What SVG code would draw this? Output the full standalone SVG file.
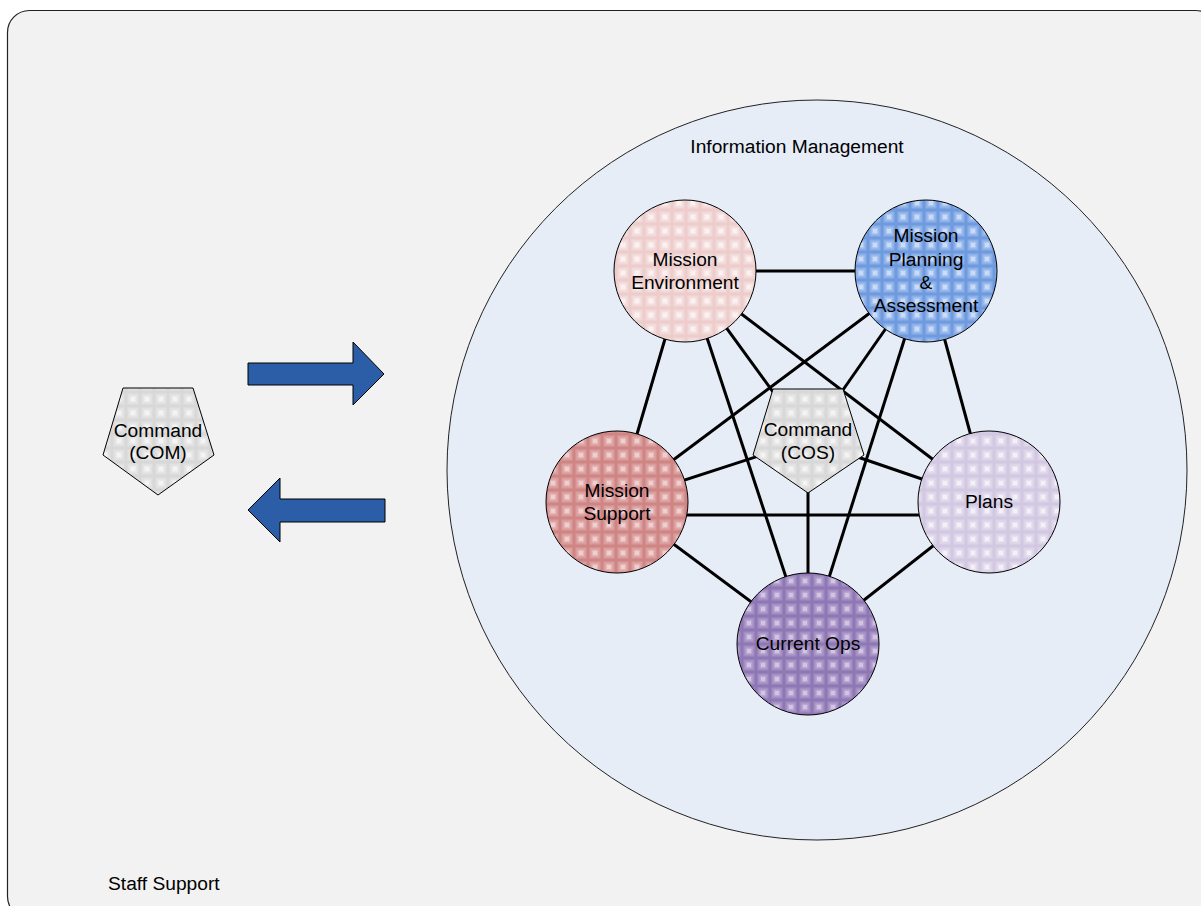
<svg xmlns="http://www.w3.org/2000/svg" width="1201" height="906" viewBox="0 0 1201 906">
<style>
text{font-family:"Liberation Sans",Arial,sans-serif;font-size:19.2px;fill:#000;text-anchor:middle}
.edge{stroke:#000;stroke-width:3;fill:none}
.node{stroke:#000;stroke-width:1}
.arrow{fill:#2b5ea6;stroke:#000;stroke-width:1}
</style>
<defs>
<pattern id="pME" width="14" height="14" patternUnits="userSpaceOnUse"><rect width="14" height="14" fill="#edcccc"/><rect x="1.5" y="1.5" width="11" height="11" fill="#f2d8d8"/><rect x="3.5" y="3.5" width="7" height="7" fill="#f7e6e6"/><rect x="5" y="5" width="4" height="4" fill="#fbf1f1"/></pattern>
<pattern id="pMPA" width="14" height="14" patternUnits="userSpaceOnUse"><rect width="14" height="14" fill="#6f9ade"/><rect x="1.5" y="1.5" width="11" height="11" fill="#8bafe8"/><rect x="3.5" y="3.5" width="7" height="7" fill="#abc6f0"/><rect x="5" y="5" width="4" height="4" fill="#cbdcf7"/></pattern>
<pattern id="pMS" width="14" height="14" patternUnits="userSpaceOnUse"><rect width="14" height="14" fill="#d08585"/><rect x="1.5" y="1.5" width="11" height="11" fill="#da9c9c"/><rect x="3.5" y="3.5" width="7" height="7" fill="#e5b5b5"/><rect x="5" y="5" width="4" height="4" fill="#f0cfcf"/></pattern>
<pattern id="pPL" width="14" height="14" patternUnits="userSpaceOnUse"><rect width="14" height="14" fill="#d2c8e2"/><rect x="1.5" y="1.5" width="11" height="11" fill="#dcd4e9"/><rect x="3.5" y="3.5" width="7" height="7" fill="#e7e1f0"/><rect x="5" y="5" width="4" height="4" fill="#f3f0f8"/></pattern>
<pattern id="pCO" width="14" height="14" patternUnits="userSpaceOnUse"><rect width="14" height="14" fill="#8f77b4"/><rect x="1.5" y="1.5" width="11" height="11" fill="#a38ec4"/><rect x="3.5" y="3.5" width="7" height="7" fill="#b9a7d2"/><rect x="5" y="5" width="4" height="4" fill="#d2c5e3"/></pattern>
<pattern id="pGR" width="14" height="14" patternUnits="userSpaceOnUse"><rect width="14" height="14" fill="#d8d8d8"/><rect x="1.5" y="1.5" width="11" height="11" fill="#e1e1e1"/><rect x="3.5" y="3.5" width="7" height="7" fill="#eaeaea"/><rect x="5" y="5" width="4" height="4" fill="#f4f4f4"/></pattern>
</defs>

<g id="staff-support">
<rect x="7.5" y="10.5" width="1210" height="908" rx="22" ry="22" fill="#f2f2f2" stroke="#222" stroke-width="1.2"/>
<text x="108" y="890" style="text-anchor:start">Staff Support</text>
</g>

<g id="information-management">
<circle cx="817" cy="470" r="370" fill="#e6edf7" stroke="#222" stroke-width="1"/>
<text x="797" y="153">Information Management</text>
</g>

<g id="arrows">
<polygon class="arrow" points="248,363 353,363 353,342 384,374 353,405 353,385 248,385"/>
<polygon class="arrow" points="385,499 280,499 280,478 248,510 280,542 280,522 385,522"/>
</g>

<g id="connectors">
<line class="edge" x1="685" y1="271" x2="926" y2="271"/>
<line class="edge" x1="685" y1="271" x2="617" y2="502"/>
<line class="edge" x1="685" y1="271" x2="808" y2="644"/>
<line class="edge" x1="685" y1="271" x2="989" y2="502"/>
<line class="edge" x1="685" y1="271" x2="808" y2="440"/>
<line class="edge" x1="926" y1="271" x2="617" y2="502"/>
<line class="edge" x1="926" y1="271" x2="808" y2="644"/>
<line class="edge" x1="926" y1="271" x2="989" y2="502"/>
<line class="edge" x1="926" y1="271" x2="808" y2="440"/>
<line class="edge" x1="617" y1="515" x2="989" y2="515"/>
<line class="edge" x1="617" y1="502" x2="808" y2="644"/>
<line class="edge" x1="617" y1="502" x2="808" y2="440"/>
<line class="edge" x1="989" y1="502" x2="808" y2="644"/>
<line class="edge" x1="989" y1="502" x2="808" y2="440"/>
<line class="edge" x1="808" y1="440" x2="808" y2="644"/>
</g>

<g id="mission-environment">
<circle class="node" cx="685" cy="271" r="71" fill="url(#pME)"/>
<text x="685" y="265.5">Mission</text>
<text x="685" y="289">Environment</text>
</g>

<g id="mission-planning-assessment">
<circle class="node" cx="926" cy="271" r="71" fill="url(#pMPA)"/>
<text x="926" y="242.3">Mission</text>
<text x="926" y="265.5">Planning</text>
<text x="926" y="288.7">&amp;</text>
<text x="926" y="312">Assessment</text>
</g>

<g id="mission-support">
<circle class="node" cx="617" cy="502" r="71" fill="url(#pMS)"/>
<text x="617" y="496.5">Mission</text>
<text x="617" y="519.8">Support</text>
</g>

<g id="plans">
<circle class="node" cx="989" cy="502" r="71" fill="url(#pPL)"/>
<text x="989" y="507.5">Plans</text>
</g>

<g id="current-ops">
<circle class="node" cx="808" cy="644" r="71" fill="url(#pCO)"/>
<text x="808" y="650">Current Ops</text>
</g>

<g id="command-cos">
<polygon class="node" points="773,389 843,389 864,455 808,493 753,455" fill="url(#pGR)"/>
<text x="808" y="436">Command</text>
<text x="808" y="459">(COS)</text>
</g>

<g id="command-com">
<polygon class="node" points="123,388 193,388 214,455 158,495 103,455" fill="url(#pGR)"/>
<text x="158" y="437">Command</text>
<text x="158" y="459">(COM)</text>
</g>
</svg>
